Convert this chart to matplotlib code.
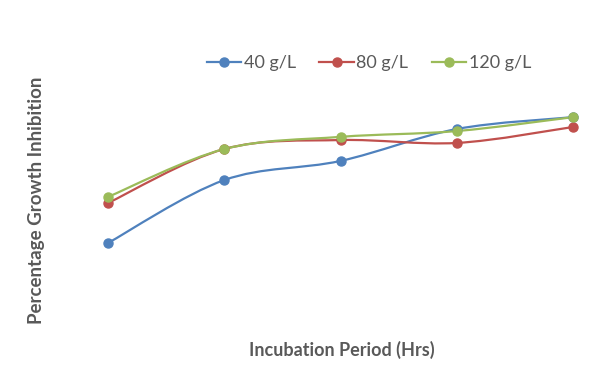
import numpy as np
import matplotlib.pyplot as plt
from matplotlib.path import Path
from matplotlib.patches import PathPatch
from matplotlib.lines import Line2D

plt.rcParams['font.family'] = ['Lato', 'DejaVu Sans']

periods = [1, 2, 3, 4, 5]
labels = ['40 g/L', '80 g/L', '120 g/L']
g40 = [30.0, 51.7, 58.3, 69.3, 73.4]
g80 = [43.8, 62.4, 65.5, 64.5, 70.0]
g120 = [45.9, 62.4, 66.6, 68.6, 73.4]
colors = ['#4F81BD', '#C0504D', '#9BBB59']


def smooth_path(x, y):
    # excel style smoothed line as cubic bezier segments
    pts = np.column_stack([x, y]).astype(float)
    n = len(pts)
    verts = [pts[0]]
    codes = [Path.MOVETO]
    for i in range(n - 1):
        p0 = pts[max(i - 1, 0)]
        p1 = pts[i]
        p2 = pts[i + 1]
        p3 = pts[min(i + 2, n - 1)]
        c1 = p1 + (p2 - p0) / 6
        c2 = p2 - (p3 - p1) / 6
        verts += [c1, c2, p2]
        codes += [Path.CURVE4] * 3
    return Path(verts, codes)


fig = plt.figure(figsize=(6.02, 3.88), dpi=100)
ax = fig.add_axes([50 / 602, 58 / 388, 550 / 602, 290 / 388])
ax.set_xlim(1 - 58 / 116.25, 5 + 27 / 116.25)
ax.set_ylim(0, 100)

handles = []
for vals, c, lab in zip([g40, g80, g120], colors, labels):
    ax.add_patch(PathPatch(smooth_path(periods, vals), fill=False,
                           edgecolor=c, lw=1.6, zorder=2))
    ax.plot(periods, vals, 'o', color=c, ms=6.5, zorder=3)
    handles.append(Line2D([], [], color=c, lw=1.6, marker='o', ms=6.5))

ax.axis('off')

fig.legend(handles, labels, loc='center', bbox_to_anchor=(369 / 602, 1 - 63 / 388),
           ncol=3, frameon=False, fontsize=13, handlelength=1.9,
           handletextpad=0.15, columnspacing=1.3, labelcolor='#595959')

fig.text(342 / 602, 1 - 350 / 388, 'Incubation Period (Hrs)', ha='center', va='center',
         fontsize=13, fontweight='bold', color='#595959')
fig.text(37 / 602, 1 - 200 / 388, 'Percentage Growth Inhibition', ha='center', va='center',
         rotation=90, fontsize=13.5, fontweight='bold', color='#595959')

fig.savefig('out.png', dpi=100)
